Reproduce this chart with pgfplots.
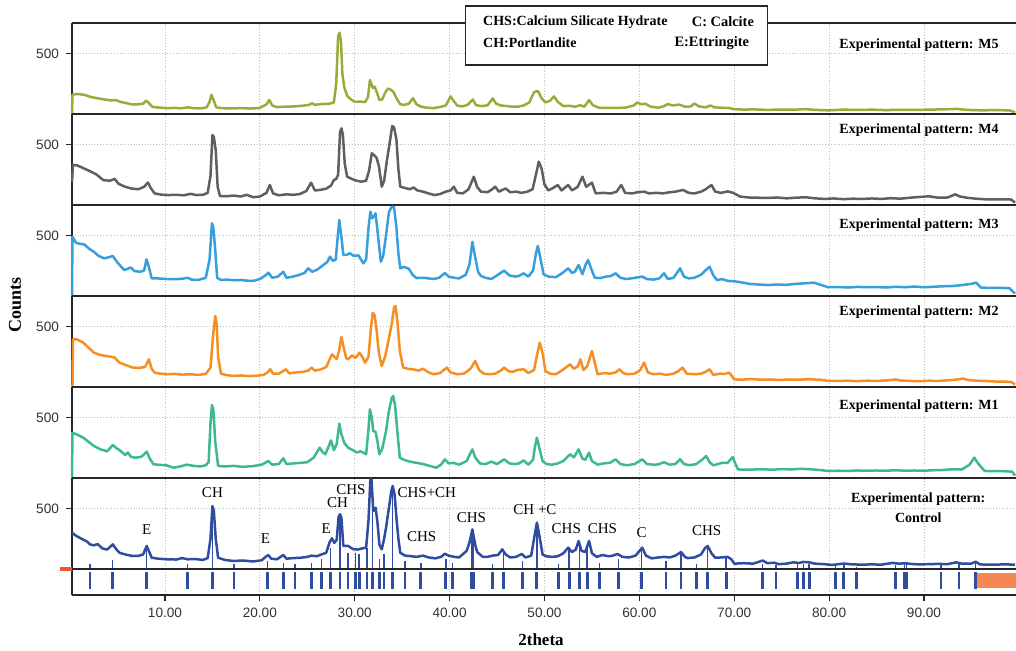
\documentclass[border=0pt]{standalone}
\usepackage{fontspec}
\setmainfont{Liberation Serif}
\setsansfont{Liberation Sans}
\usepackage{pgfplots}
\pgfplotsset{compat=1.18}
\definecolor{cM5}{RGB}{155,171,58}
\definecolor{cM4}{RGB}{95,95,95}
\definecolor{cM3}{RGB}{55,160,220}
\definecolor{cM2}{RGB}{247,142,35}
\definecolor{cM1}{RGB}{62,186,138}
\definecolor{cC}{RGB}{48,76,160}
\definecolor{cOr}{RGB}{245,135,85}
\definecolor{cRed}{RGB}{238,85,45}
\tikzset{
 plab/.style={anchor=east, font=\bfseries\fontsize{7}{8}\selectfont},
 ann/.style={font=\fontsize{7.5}{9}\selectfont},
}
\pgfplotsset{
 panel/.style={
  scale only axis, width=472pt, height=45.5pt,
  anchor=north west,
  xmin=0.2, xmax=99.7, ymin=0, ymax=750,
  axis x line=box, axis y line=left,
  axis line style={-, line width=0.8pt, black!85},
  xtick={10,20,...,90}, xticklabels={},
  xtick style={draw=none},
  ytick={500}, yticklabels={500},
  ytick style={black!85, line width=0.6pt},
  tick align=outside, major tick length=3pt,
  /pgf/number format/assume math mode=true,
  yticklabel style={font=\sffamily\fontsize{6.8}{8}\selectfont, text=black!80},
  grid=major, grid style={densely dotted, black!25, line width=0.4pt},
  clip=false,
  every axis plot/.append style={line width=1.25pt, line join=round},
 },
}
\begin{document}
\begin{tikzpicture}
% ---------------- M5
\begin{axis}[panel, at={(0pt,0pt)}]
\addplot[cM5] coordinates {(0.2,0) (0.25,160) (0.8,165) (1.5,158) (2.2,140) (3.0,128) (3.6,120) (4.3,112) (4.8,115) (5.3,100) (6.0,88) (6.6,78) (7.2,80) (7.7,85) (8.0,110) (8.3,90) (8.7,58) (9.5,52) (10.3,48) (11.0,50) (11.7,47) (12.4,55) (13.0,48) (13.8,46) (14.4,55) (14.7,100) (14.9,158) (15.1,120) (15.4,55) (16.0,48) (17.0,46) (18.0,48) (19.0,45) (20.0,50) (20.7,80) (21.0,115) (21.3,70) (21.8,57) (22.5,60) (23.5,62) (24.5,68) (25.2,75) (25.5,88) (25.8,76) (26.5,82) (27.3,84) (27.8,95) (28.05,250) (28.25,640) (28.4,670) (28.55,600) (28.7,330) (28.9,220) (29.2,150) (29.6,120) (30.0,100) (30.6,102) (31.1,98) (31.4,140) (31.6,280) (31.75,250) (31.9,215) (32.1,225) (32.35,175) (32.6,115) (32.9,120) (33.2,175) (33.5,210) (33.8,200) (34.1,180) (34.4,130) (34.8,80) (35.2,75) (35.7,85) (36.15,130) (36.5,80) (37.0,60) (37.6,52) (38.3,48) (39.0,58) (39.6,70) (40.1,145) (40.4,110) (40.8,70) (41.3,62) (41.9,75) (42.45,120) (42.8,72) (43.4,65) (44.0,72) (44.55,128) (44.9,85) (45.4,70) (46.0,66) (46.6,60) (47.2,60) (47.8,70) (48.4,95) (48.9,180) (49.3,190) (49.7,130) (50.1,95) (50.6,110) (51.0,145) (51.4,100) (52.0,65) (52.6,68) (53.2,60) (53.8,72) (54.2,60) (54.7,115) (55.1,72) (55.7,52) (56.5,50) (57.5,50) (58.5,52) (59.4,70) (59.8,95) (60.2,80) (60.6,85) (61.2,60) (62.0,52) (62.6,65) (63.0,82) (63.5,70) (64.2,78) (64.8,60) (65.4,62) (65.8,86) (66.3,62) (67.0,55) (67.5,70) (67.9,55) (68.6,52) (69.4,50) (70.0,40) (71.0,36) (72.0,38) (73.5,34) (75.0,37) (76.5,36) (77.5,40) (78.5,34) (80.0,30) (81.5,36) (83.0,33) (84.5,36) (86.0,32) (87.5,35) (89.0,33) (90.5,36) (92.0,38) (93.4,42) (94.5,34) (96.0,30) (97.5,32) (99.0,30) (99.6,15)};
\node[plab] at (axis cs:98.6,569) {Experimental pattern: M5};
\draw[black!85, line width=0.6pt, fill=white] (axis cs:41.7,404) rectangle (axis cs:73.5,890);
\node[anchor=west, font=\bfseries\fontsize{7}{8}\selectfont] at (axis cs:42.8,758) {CHS:Calcium Silicate Hydrate};
\node[anchor=west, font=\bfseries\fontsize{7.2}{8}\selectfont] at (axis cs:64.8,758) {C: Calcite};
\node[anchor=west, font=\bfseries\fontsize{7}{8}\selectfont] at (axis cs:42.8,585) {CH:Portlandite};
\node[anchor=east, font=\bfseries\fontsize{7.2}{8}\selectfont] at (axis cs:72.3,585) {E:Ettringite};
\end{axis}
% ---------------- M4
\begin{axis}[panel, at={(0pt,-45.5pt)}]
\addplot[cM4] coordinates {(0.2,190) (0.3,330) (0.8,325) (1.5,300) (2.2,275) (2.8,250) (3.5,205) (4.2,200) (4.7,215) (5.1,175) (5.8,150) (6.5,135) (7.2,130) (7.8,150) (8.2,185) (8.5,140) (8.9,96) (9.6,85) (10.4,82) (11.2,84) (12.0,80) (12.7,92) (13.3,82) (14.0,84) (14.5,100) (14.8,240) (15.0,577) (15.15,560) (15.35,453) (15.55,150) (15.8,74) (16.5,72) (17.2,78) (18.0,70) (18.6,84) (19.3,64) (20.0,70) (20.7,100) (21.05,165) (21.4,95) (22.0,80) (22.8,88) (23.5,84) (24.2,90) (24.9,115) (25.4,184) (25.8,120) (26.4,125) (27.0,135) (27.5,160) (27.8,206) (28.05,215) (28.25,250) (28.45,600) (28.6,632) (28.75,580) (28.95,340) (29.2,233) (29.7,215) (30.2,200) (30.7,192) (31.2,200) (31.5,280) (31.8,426) (32.05,410) (32.3,390) (32.55,320) (32.85,151) (33.1,200) (33.4,371) (33.7,520) (33.95,651) (34.15,640) (34.4,536) (34.6,300) (34.8,151) (35.3,140) (35.8,130) (36.2,145) (36.6,120) (37.2,110) (37.8,95) (38.4,82) (39.0,90) (39.6,110) (40.1,120) (40.45,151) (40.8,100) (41.4,96) (42.0,130) (42.55,233) (42.9,150) (43.3,110) (44.0,105) (44.5,130) (44.8,151) (45.2,110) (45.9,137) (46.4,105) (47.0,110) (47.6,100) (48.2,110) (48.75,130) (49.1,250) (49.4,357) (49.7,300) (50.0,170) (50.4,120) (50.9,140) (51.4,165) (51.8,120) (52.5,165) (52.9,120) (53.5,150) (54.0,233) (54.4,150) (55.0,184) (55.4,96) (56.2,100) (57.0,95) (57.6,110) (58.1,165) (58.5,100) (59.2,95) (59.8,105) (60.5,110) (61.0,96) (61.8,100) (62.5,96) (63.2,105) (63.8,110) (64.6,124) (65.2,100) (65.8,95) (66.5,110) (67.0,130) (67.6,165) (68.0,110) (68.6,100) (69.3,112) (69.9,100) (70.6,70) (71.5,62) (72.5,60) (73.5,58) (74.5,62) (75.5,55) (76.5,60) (77.5,64) (78.5,55) (79.5,50) (80.5,54) (81.5,48) (82.5,52) (83.5,50) (84.5,54) (85.5,50) (86.5,56) (87.5,52) (88.5,60) (89.5,66) (90.5,72) (91.5,60) (92.5,62) (93.3,88) (93.8,70) (94.5,60) (95.5,52) (96.5,47) (97.5,47) (98.5,47) (99.2,45) (99.6,20)};
\node[plab] at (axis cs:98.6,618) {Experimental pattern: M4};
\end{axis}
% ---------------- M3
\begin{axis}[panel, at={(0pt,-91pt)}]
\addplot[cM3] coordinates {(0.2,0) (0.25,489) (0.6,440) (1.0,430) (1.5,425) (2.0,390) (2.5,365) (3.0,330) (3.6,310) (4.1,320) (4.5,330) (5.0,275) (5.7,214) (6.1,225) (6.4,235) (6.8,205) (7.4,200) (7.8,210) (8.05,302) (8.3,240) (8.6,146) (9.2,145) (10.2,140) (11.0,138) (11.8,142) (12.4,150) (12.8,135) (13.5,132) (14.3,150) (14.7,300) (14.95,599) (15.1,560) (15.3,380) (15.5,150) (15.9,132) (16.5,135) (17.2,130) (18.0,132) (18.8,125) (19.3,124) (20.0,140) (20.6,170) (20.9,192) (21.3,150) (21.9,160) (22.47,200) (22.8,150) (23.5,160) (24.2,175) (24.7,190) (25.1,228) (25.5,200) (26.0,215) (26.6,250) (27.1,280) (27.4,324) (27.7,290) (28.0,300) (28.2,480) (28.37,626) (28.55,520) (28.8,340) (29.1,338) (29.5,352) (29.9,330) (30.4,335) (30.9,269) (31.2,300) (31.45,560) (31.65,695) (31.85,640) (32.05,660) (32.2,681) (32.45,500) (32.75,283) (33.0,330) (33.3,500) (33.6,690) (33.9,736) (34.15,730) (34.4,560) (34.6,350) (34.8,228) (35.2,240) (35.7,225) (36.1,175) (36.5,148) (37.3,150) (38.3,140) (38.9,150) (39.5,189) (39.9,160) (40.5,150) (41.0,145) (41.7,175) (42.1,260) (42.4,447) (42.7,320) (43.0,200) (43.3,165) (43.8,150) (44.4,140) (45.0,170) (45.75,209) (46.3,170) (46.9,160) (47.3,165) (47.8,187) (48.3,160) (48.8,210) (49.1,350) (49.3,412) (49.55,320) (49.9,180) (50.4,160) (51.2,155) (51.9,190) (52.5,228) (52.9,190) (53.2,200) (53.6,255) (54.0,180) (54.35,260) (54.6,297) (54.9,230) (55.3,150) (55.9,148) (56.5,160) (57.0,165) (57.5,187) (58.0,150) (58.6,140) (59.4,148) (60.3,160) (60.8,140) (61.5,135) (62.1,145) (62.6,187) (63.0,140) (63.6,150) (64.3,228) (64.7,160) (65.2,145) (65.8,150) (66.5,175) (67.1,220) (67.4,241) (67.8,170) (68.2,130) (68.7,140) (69.3,125) (70.0,121) (70.8,112) (71.6,100) (72.5,95) (73.6,90) (74.5,95) (75.5,92) (76.5,100) (77.5,105) (78.4,110) (79.0,95) (79.9,72) (81.0,74) (82.0,70) (83.0,75) (84.0,72) (85.0,74) (86.0,70) (87.0,76) (88.0,72) (89.0,78) (90.0,72) (91.0,76) (92.0,80) (93.0,82) (94.0,90) (95.0,100) (95.5,110) (96.0,70) (97.0,66) (98.0,68) (99.0,64) (99.6,20)};
\node[plab] at (axis cs:98.6,585) {Experimental pattern: M3};
\end{axis}
% ---------------- M2
\begin{axis}[panel, at={(0pt,-136.5pt)}]
\addplot[cM2] coordinates {(0.25,0) (0.3,393) (0.7,393) (1.4,365) (2.0,320) (2.5,283) (3.2,264) (3.8,255) (4.3,250) (4.7,242) (5.2,201) (5.9,180) (6.6,160) (7.3,158) (7.9,165) (8.3,228) (8.6,150) (8.9,118) (9.5,110) (10.2,105) (11.0,108) (11.8,102) (12.7,105) (13.5,100) (14.3,108) (14.8,160) (15.1,450) (15.3,585) (15.45,520) (15.6,250) (15.9,110) (16.5,98) (17.2,91) (18.0,95) (18.8,90) (19.6,92) (20.4,100) (20.8,120) (21.1,146) (21.4,110) (22.0,110) (22.75,146) (23.1,112) (23.8,120) (24.6,125) (25.1,135) (25.45,160) (25.8,135) (26.4,145) (27.0,165) (27.6,269) (27.85,250) (28.1,230) (28.35,300) (28.6,412) (28.85,320) (29.1,240) (29.3,228) (29.7,260) (30.1,240) (30.5,283) (30.8,250) (31.1,201) (31.45,250) (31.7,480) (31.9,612) (32.1,590) (32.3,470) (32.55,280) (32.85,173) (33.2,250) (33.55,379) (33.9,520) (34.15,660) (34.3,667) (34.5,540) (34.75,300) (35.1,160) (35.6,150) (36.2,145) (36.7,135) (37.2,150) (37.8,120) (38.3,105) (39.0,115) (39.7,160) (40.1,120) (40.8,105) (41.5,110) (42.2,150) (42.7,214) (43.1,140) (43.6,110) (44.2,105) (44.8,110) (45.4,135) (45.75,160) (46.2,130) (46.7,125) (47.1,140) (47.8,146) (48.3,115) (48.9,140) (49.2,260) (49.5,365) (49.8,280) (50.1,130) (50.6,110) (51.2,105) (51.9,140) (52.7,187) (53.1,150) (53.5,170) (53.8,228) (54.1,140) (54.5,170) (55.0,297) (55.3,200) (55.6,105) (56.3,115) (56.9,110) (57.5,120) (57.9,146) (58.3,115) (58.7,105) (59.5,110) (60.1,140) (60.5,201) (60.9,120) (61.5,105) (62.2,110) (62.8,100) (63.6,110) (64.1,130) (64.55,160) (65.0,110) (65.8,105) (66.5,110) (67.0,125) (67.4,146) (67.8,100) (68.5,110) (69.0,108) (69.5,118) (70.0,63) (70.8,60) (71.8,66) (72.8,60) (73.8,62) (74.8,58) (75.8,62) (76.8,60) (77.8,64) (79.0,60) (79.9,51) (81.0,50) (82.0,52) (83.0,48) (84.0,52) (85.0,50) (86.0,54) (87.0,62) (87.5,54) (88.5,50) (89.5,48) (90.5,52) (91.5,50) (92.5,55) (93.5,62) (94.1,70) (94.6,58) (95.5,52) (96.4,50) (97.5,45) (98.5,44) (99.2,42) (99.6,20)};
\node[plab] at (axis cs:98.6,618) {Experimental pattern: M2};
\end{axis}
% ---------------- M1
\begin{axis}[panel, at={(0pt,-182pt)}]
\addplot[cM1] coordinates {(0.2,0) (0.25,373) (0.7,359) (1.4,332) (2.0,295) (2.5,264) (3.2,236) (3.9,220) (4.2,245) (4.5,272) (4.9,245) (5.2,230) (5.8,190) (6.1,210) (6.4,175) (6.9,167) (7.5,175) (7.8,195) (8.07,217) (8.4,160) (8.8,113) (9.5,108) (10.2,104) (10.9,85) (11.6,95) (12.3,110) (13.0,100) (13.7,95) (14.3,105) (14.6,130) (14.8,450) (14.95,601) (15.1,560) (15.3,300) (15.6,100) (16.3,95) (17.2,100) (18.2,92) (19.3,98) (20.2,110) (20.9,140) (21.3,110) (22.0,115) (22.47,162) (22.8,115) (23.5,120) (24.3,125) (25.0,130) (25.7,170) (26.3,250) (26.6,215) (26.9,195) (27.2,250) (27.5,310) (27.8,230) (28.1,280) (28.37,448) (28.6,360) (28.9,290) (29.3,250) (29.8,230) (30.2,210) (30.6,220) (31.0,205) (31.2,195) (31.45,400) (31.6,566) (31.8,500) (31.95,387) (32.2,380) (32.4,300) (32.6,195) (32.9,240) (33.3,387) (33.6,550) (33.9,660) (34.05,675) (34.25,600) (34.5,380) (34.75,167) (35.2,150) (35.8,135) (36.5,125) (37.2,115) (37.9,100) (38.6,85) (39.1,110) (39.5,154) (39.9,120) (40.4,125) (41.0,110) (41.8,140) (42.1,190) (42.4,236) (42.7,170) (43.2,120) (43.8,115) (44.4,135) (45.0,115) (45.75,154) (46.3,120) (46.9,115) (47.3,120) (47.8,145) (48.3,110) (48.8,150) (49.0,260) (49.2,332) (49.45,250) (49.8,140) (50.2,115) (50.8,110) (51.4,120) (52.0,140) (52.7,195) (53.1,170) (53.6,236) (54.0,160) (54.3,150) (54.7,209) (55.0,140) (55.6,110) (56.2,120) (56.9,125) (57.5,154) (58.0,115) (58.7,105) (59.5,115) (60.3,154) (60.8,115) (61.5,110) (62.0,112) (62.6,130) (63.2,110) (63.8,115) (64.3,154) (64.7,115) (65.3,105) (66.0,115) (66.6,150) (67.05,181) (67.4,130) (67.8,105) (68.3,115) (68.7,125) (69.3,125) (69.85,173) (70.1,120) (70.4,71) (71.0,68) (72.0,70) (73.0,72) (74.0,68) (75.0,74) (76.0,70) (77.0,76) (78.0,72) (79.0,66) (79.9,58) (81.0,60) (82.0,58) (83.0,62) (84.0,60) (85.0,62) (86.0,60) (87.0,64) (88.0,60) (89.0,62) (90.0,60) (91.0,64) (92.0,66) (93.0,72) (94.0,70) (94.8,110) (95.3,167) (95.8,110) (96.4,58) (97.5,56) (98.5,56) (99.3,52) (99.6,20)};
\node[plab] at (axis cs:98.6,593) {Experimental pattern: M1};
\end{axis}
% ---------------- Control
\begin{axis}[panel, at={(0pt,-227.5pt)}]
\addplot[cC] coordinates {(0.2,299) (0.7,270) (1.2,250) (1.8,225) (2.1,203) (2.5,195) (2.9,205) (3.4,170) (3.9,160) (4.5,203) (4.9,160) (5.2,134) (5.8,120) (6.6,107) (7.2,108) (7.7,120) (8.07,190) (8.35,140) (8.6,93) (9.3,85) (10.2,80) (11.2,78) (11.8,90) (12.4,80) (13.2,82) (14.0,75) (14.5,90) (14.8,250) (15.0,519) (15.15,480) (15.35,250) (15.6,93) (16.3,75) (17.2,66) (18.2,70) (19.3,62) (20.2,72) (20.6,100) (20.9,115) (21.2,85) (21.8,80) (22.47,115) (22.8,85) (23.5,90) (24.2,92) (25.0,100) (25.45,110) (26.0,105) (26.5,120) (27.0,134) (27.35,220) (27.6,253) (27.85,215) (28.1,240) (28.3,430) (28.45,451) (28.6,420) (28.8,190) (29.3,190) (29.8,165) (30.3,160) (30.8,170) (31.2,175) (31.45,400) (31.65,745) (31.8,700) (31.95,478) (32.2,505) (32.4,380) (32.6,200) (32.85,162) (33.1,250) (33.3,340) (33.6,500) (33.85,640) (34.0,684) (34.2,616) (34.4,420) (34.6,250) (34.8,134) (35.3,110) (35.8,107) (36.5,100) (37.2,110) (37.8,95) (38.5,88) (39.1,100) (39.5,126) (39.9,110) (40.5,100) (41.0,95) (41.8,150) (42.1,220) (42.4,327) (42.7,200) (42.9,140) (43.5,100) (44.0,100) (44.5,110) (45.1,115) (45.55,162) (45.9,120) (46.4,95) (47.0,100) (47.6,124) (48.0,95) (48.6,110) (48.9,250) (49.2,382) (49.45,280) (49.8,120) (50.2,105) (50.8,100) (51.4,105) (52.0,130) (52.5,176) (52.9,140) (53.3,160) (53.6,231) (53.9,150) (54.3,140) (54.7,231) (55.0,130) (55.5,100) (56.1,115) (56.8,105) (57.2,110) (57.7,124) (58.2,100) (58.9,95) (59.6,110) (60.3,176) (60.7,110) (61.3,88) (62.0,95) (62.6,100) (63.2,95) (63.8,110) (64.4,140) (64.8,100) (65.1,90) (65.8,95) (66.5,120) (66.9,170) (67.2,190) (67.6,130) (68.0,93) (68.6,95) (69.3,100) (69.7,80) (70.0,44) (71.0,48) (72.0,44) (73.0,70) (73.5,48) (74.2,52) (74.7,40) (75.5,44) (76.2,55) (76.8,50) (77.3,58) (77.9,55) (78.5,44) (79.5,40) (80.3,33) (81.0,40) (81.6,45) (82.4,38) (83.5,36) (84.5,38) (85.5,36) (86.7,50) (87.4,44) (88.0,48) (88.6,42) (89.5,38) (90.5,40) (91.5,42) (92.5,40) (93.4,55) (94.0,44) (95.0,45) (95.45,60) (95.9,38) (96.5,36) (97.5,36) (98.5,38) (99.6,36)};
\addplot[cC, ycomb, line width=0.7pt] coordinates {(2.1,44) (4.5,72) (8.07,160) (12.35,40) (15.0,480) (17.27,40) (20.78,66) (22.47,52) (23.7,44) (25.45,52) (26.5,85) (27.45,176) (28.44,420) (29.3,134) (30.08,134) (30.47,120) (31.3,176) (31.85,745) (32.58,80) (33.08,126) (34.0,680) (35.3,66) (36.97,52) (39.6,80) (40.3,52) (42.35,327) (42.55,300) (44.5,40) (45.65,162) (47.7,66) (49.2,382) (51.45,40) (52.6,160) (53.7,230) (54.5,200) (55.8,52) (57.8,80) (60.2,165) (62.8,66) (64.4,130) (66.0,40) (67.2,180) (69.15,90) (73.0,45) (74.4,35) (76.7,45) (77.3,45) (77.9,45) (80.7,35) (81.55,35) (82.9,20) (87.0,30) (87.95,40) (88.15,40) (91.8,30) (93.7,40) (95.45,60)};
\node[ann] at (axis cs:8.07,327) {E};
\node[ann] at (axis cs:15.0,629) {CH};
\node[ann] at (axis cs:20.6,253) {E};
\node[ann] at (axis cs:27.0,335) {E};
\node[ann] at (axis cs:28.2,546) {CH};
\node[ann] at (axis cs:29.6,657) {CHS};
\node[ann] at (axis cs:37.6,629) {CHS+CH};
\node[ann] at (axis cs:37.05,264) {CHS};
\node[ann] at (axis cs:42.3,423) {CHS};
\node[ann] at (axis cs:49.0,492) {CH +C};
\node[ann] at (axis cs:52.3,335) {CHS};
\node[ann] at (axis cs:56.1,335) {CHS};
\node[ann] at (axis cs:60.25,299) {C};
\node[ann] at (axis cs:67.1,313) {CHS};
\node[align=center, font=\bfseries\fontsize{7}{10}\selectfont] at (axis cs:89.4,503) {Experimental pattern:\\Control};
\end{axis}
% ---------------- reference strip
\begin{axis}[scale only axis, width=472pt, height=13pt, at={(0pt,-273pt)}, anchor=north west,
  xmin=0.2, xmax=99.7, ymin=-0.35, ymax=1.15,
  axis x line=box, axis y line=left,
  axis line style={-, line width=0.8pt, black!85},
  ytick=\empty,
  xtick={10,20,...,90}, xticklabels={10.00,20.00,30.00,40.00,50.00,60.00,70.00,80.00,90.00},
  xtick pos=bottom, tick align=outside, major tick length=3pt,
  xtick style={black!85, line width=0.6pt},
  xticklabel style={font=\sffamily\fontsize{6.8}{8}\selectfont, text=black!80},
  xmajorgrids, grid style={densely dotted, black!25, line width=0.4pt},
  clip=false]
\addplot[cC, ycomb, line width=1.4pt] coordinates {(2.1,0.98) (4.5,0.98) (8.07,0.98) (12.35,0.98) (15.0,0.98) (17.27,0.98) (20.78,0.98) (22.47,0.98) (23.7,0.98) (25.45,0.98) (26.5,0.98) (27.45,0.98) (28.44,0.98) (29.3,0.98) (30.08,0.98) (30.47,0.98) (31.3,0.98) (31.85,0.98) (32.58,0.98) (33.08,0.98) (34.0,0.98) (35.3,0.98) (36.97,0.98) (39.6,0.98) (40.3,0.98) (42.35,0.98) (42.55,0.98) (44.5,0.98) (45.65,0.98) (47.7,0.98) (49.2,0.98) (51.45,0.98) (52.6,0.98) (53.7,0.98) (54.5,0.98) (55.8,0.98) (57.8,0.98) (60.2,0.98) (62.8,0.98) (64.4,0.98) (66.0,0.98) (67.2,0.98) (69.15,0.98) (73.0,0.98) (74.4,0.98) (76.7,0.98) (77.3,0.98) (77.9,0.98) (80.7,0.98) (81.55,0.98) (82.9,0.98) (87.0,0.98) (87.95,0.98) (88.15,0.98) (91.8,0.98) (93.7,0.98) (95.45,0.98)};
\addplot[fill=cOr, draw=none] coordinates {(95.6,0.05) (99.7,0.05) (99.7,0.92) (95.6,0.92)};
\addplot[cRed, line width=2pt] coordinates {(-1.06,1.15) (0.2,1.15)};
\end{axis}
\node[rotate=90, font=\bfseries\fontsize{9}{10}\selectfont] at (-28.5pt,-141pt) {Counts};
\node[font=\bfseries\fontsize{8.5}{10}\selectfont] at (234.5pt,-308.5pt) {2theta};
\pgfresetboundingbox
\useasboundingbox (-36pt,11.5pt) rectangle (472pt,-314pt);
\end{tikzpicture}
\end{document}
